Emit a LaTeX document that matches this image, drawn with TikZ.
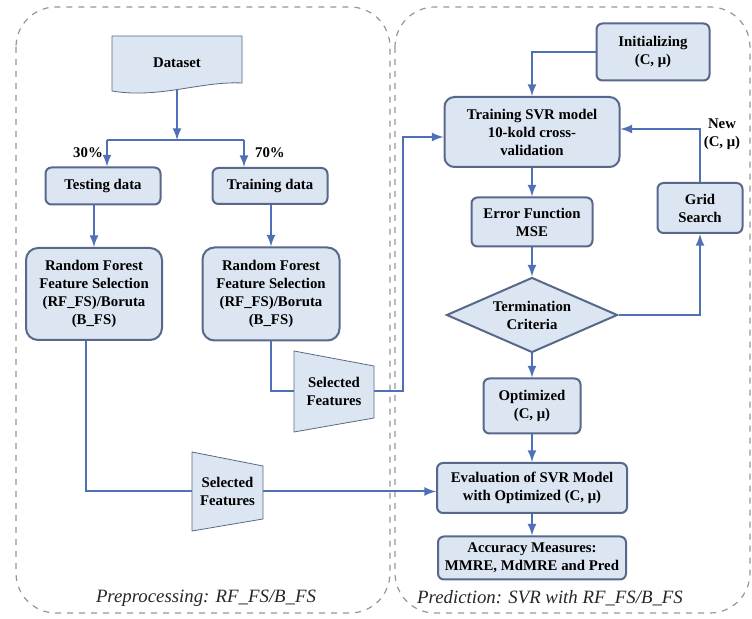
\documentclass[tikz,border=0pt]{standalone}
\usepackage{fontspec}
\setmainfont{Liberation Serif}
\usetikzlibrary{positioning,shapes.geometric,calc,backgrounds}
\definecolor{boxfill}{RGB}{220,230,242}
\definecolor{boxline}{RGB}{88,104,138}
\definecolor{flow}{RGB}{79,112,182}
\definecolor{framegray}{RGB}{150,150,150}

\begin{document}
\begin{tikzpicture}[-latex ,x=0.5pt ,y=-0.5pt ,on grid ,
line width=1pt ,color=flow ,
font=\fontsize{7.4}{9}\selectfont\bfseries ,
block/.style ={ rectangle ,rounded corners=3pt ,draw=boxline ,fill=boxfill ,
text=black ,align=center ,inner sep=1pt},
bigblock/.style ={ block ,rounded corners=6pt},
plain/.style ={ text=black ,align=center ,inner sep=1pt},
shapebg/.style ={ draw=boxline ,fill=boxfill},
frame/.style ={ draw=framegray ,dashed ,line width=0.6pt ,rounded corners=20pt},
caption/.style ={ text=black!85 ,font=\fontsize{9.4}{11}\selectfont\itshape}]
\useasboundingbox (0,0) rectangle (752,619);
\draw[frame] (16,7) rectangle (390,613);
\draw[frame] (395,7) rectangle (750,613);

% preprocessing
\node[plain ,minimum width=64pt ,minimum height=26pt] (data) at (177,63) {Dataset};
\node[block ,minimum width=57.5pt ,minimum height=18.5pt] (test) [below left = 61.5pt and 37pt of data] {Testing data};
\node[block ,minimum width=57.5pt ,minimum height=18pt] (train) [right = 83.5pt of test] {Training data};
\node[bigblock ,minimum width=68pt ,minimum height=46pt] (rfl) [below left = 54pt and 4.5pt of test]
  {Random Forest\\Feature Selection\\(RF\_FS)/Boruta\\(B\_FS)};
\node[bigblock ,minimum width=68.5pt ,minimum height=46.5pt] (rfr) [right = 88.5pt of rfl]
  {Random Forest\\Feature Selection\\(RF\_FS)/Boruta\\(B\_FS)};
\node[plain ,minimum width=39pt ,minimum height=39.5pt] (sf1) [below right = 48.75pt and 31.5pt of rfr] {Selected\\Features};
\node[plain ,minimum width=34.5pt ,minimum height=38.5pt] (sf2) at (227.5,491.5) {Selected\\Features};
\node[plain] (p30) at (88,153) {30\%};
\node[plain] (p70) at (270,153) {70\%};
\node[caption] (cap1) at (206,598) {Preprocessing: RF\_FS/B\_FS};

% prediction
\node[block ,rounded corners=5pt ,minimum width=87.5pt ,minimum height=35pt] (svr) at (532,132)
  {Training SVR model\\10-kold cross-\\validation};
\node[block ,minimum width=56.5pt ,minimum height=28.5pt] (init) [above right = 40pt and 60.5pt of svr] {Initializing\\(C, μ)};
\node[block ,minimum width=60.5pt ,minimum height=24.5pt] (err) [below = 45pt of svr] {Error Function\\MSE};
\node[diamond ,shapebg ,text=black ,align=center ,inner sep=0pt ,aspect=2.3 ,
  minimum width=85.5pt ,minimum height=37.5pt] (term) [below = 46.5pt of err] {Termination\\Criteria};
\node[block ,minimum width=48.5pt ,minimum height=27.5pt] (opt) [below = 45.5pt of term] {Optimized\\(C, μ)};
\node[block ,minimum width=95pt ,minimum height=25pt] (eval) [below = 41pt of opt] {Evaluation of SVR Model\\with Optimized (C, μ)};
\node[block ,minimum width=94pt ,minimum height=21.5pt] (acc) [below = 35pt of eval] {Accuracy Measures:\\MMRE, MdMRE and Pred};
\node[block ,minimum width=42.5pt ,minimum height=25pt] (grid) [above right = 7pt and 84pt of err] {Grid\\Search};
\node[plain] (newp) at (722,134) {New\\(C, μ)};
\node[caption] (cap2) at (550,598) {Prediction: SVR with RF\_FS/B\_FS};

\begin{scope}[on background layer]
\draw[shapebg] (data.north west) -- (data.north east) -- ($(data.south east)+(0,-7)$)
  .. controls ($(data.south east)+(-41,-9)$) and ($(data.south west)+(47,9)$) .. ($(data.south west)+(0,1)$) -- cycle;
\draw[shapebg] (sf1.north west) -- ($(sf1.north east)+(0,15)$) -- ($(sf1.south east)+(0,-14)$) -- (sf1.south west) -- cycle;
\draw[shapebg] (sf2.north west) -- ($(sf2.north east)+(0,14)$) -- ($(sf2.south east)+(0,-12)$) -- (sf2.south west) -- cycle;
\end{scope}

\coordinate (split) at (177,140);
\coordinate (sl) at (107,140);
\coordinate (sr) at (244,140);
\draw (data.south) -- (split);
\draw[-] (sl) -- (sr);
\draw (sl) -- (sl |- test.north);
\draw (sr) -- (sr |- train.north);
\draw (test.south -| rfl.north) -- (rfl.north);
\draw (train.south -| rfr.north) -- (rfr.north);
\draw[-] ([xshift=-4pt]rfl.south) |- (sf2.west);
\draw[-] (rfr.south) |- (sf1.west);
\draw (sf1.east) -- ++(29,0) |- ([yshift=-2.5pt]svr.west);
\draw (sf2.east) -- (sf2.east -| eval.west);
\draw (init.west) -| (svr.north);
\draw (svr) -- (err);
\draw (err) -- (term);
\draw (term) -- (opt);
\draw (opt) -- (eval);
\draw (eval) -- (acc);
\draw (term.east) -| (grid.south);
\draw (grid.north) |- ([yshift=1.5pt]svr.east);
\end{tikzpicture}
\end{document}
